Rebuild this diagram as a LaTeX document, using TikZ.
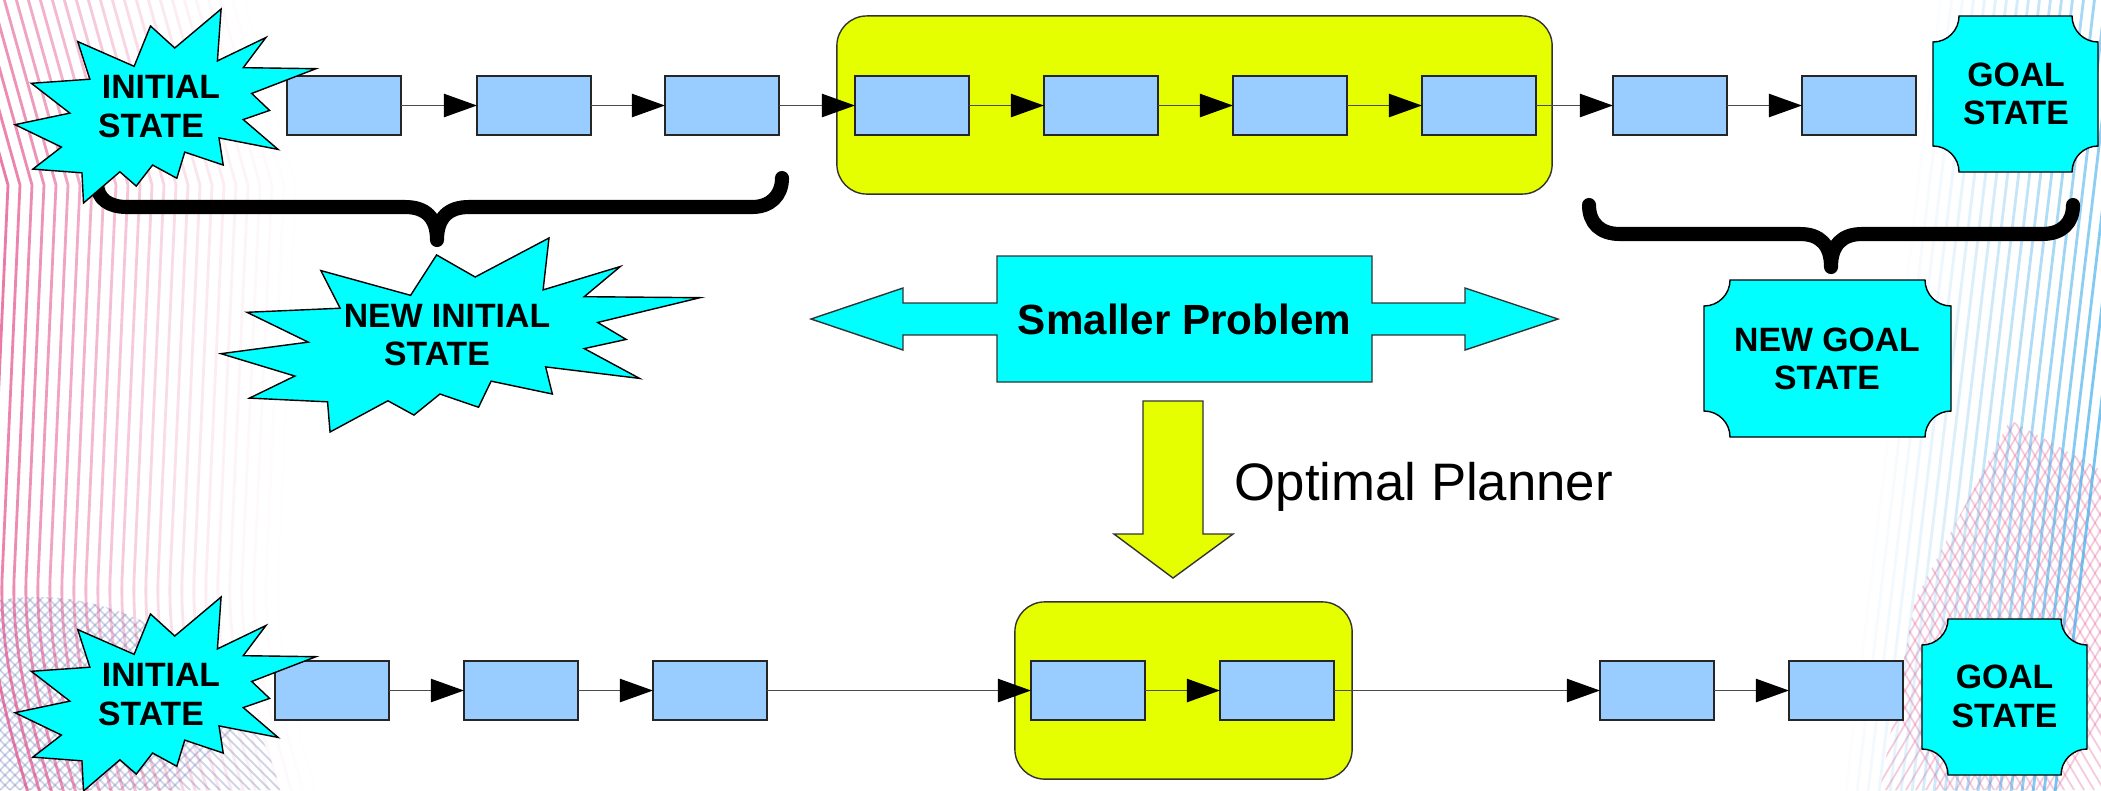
\documentclass[tikz,border=0pt]{standalone}
\usepackage{fontspec}
\setmainfont{Liberation Sans}
\usetikzlibrary{arrows.meta}

\definecolor{statecyan}{RGB}{0,255,255}
\definecolor{stepblue}{RGB}{153,204,255}
\definecolor{focusyellow}{RGB}{230,255,0}
\definecolor{stripepink}{RGB}{228,80,140}
\definecolor{stripeblue}{RGB}{70,175,235}
\definecolor{meshblue}{RGB}{80,100,170}

\newcommand\statefont{\fontsize{9.6pt}{11pt}\selectfont\bfseries}

% irregular explosion outline, given in a 216 x 216 frame and scaled to w x h
\newcommand\explosion[4]{%
  \draw[burst, shift={(#1,#2)}, xscale=#3/216, yscale=#4/216]
    (114.62,43.42) -- (147.90,0) -- (145.25,57.77) -- (180.07,31.72)
    -- (163.80,65.32) -- (216,66.45) -- (169.85,94.02) -- (182.70,112.90)
    -- (163.80,123.10) -- (188.77,156.32) -- (146.40,143.50) -- (149.42,173.70)
    -- (121.80,159.35) -- (116.12,188.42) -- (98.72,173.70) -- (87.00,197.12)
    -- (75.27,181.25) -- (49.17,216) -- (48.05,182.40) -- (12.85,178.25)
    -- (33.30,153.70) -- (0,128.77) -- (39.35,115.92) -- (11.72,82.70)
    -- (53.72,78.17) -- (45.02,36.25) -- (85.50,63.82) -- (97.22,18.87) -- cycle;}

% rectangle with concave quarter-circle corners: x0 y0 x1 y1 r
\newcommand\plaque[5]{%
  \draw[plaquestyle]
    (#1,{#2+#5}) .. controls ({#1+0.552*#5},{#2+#5}) and ({#1+#5},{#2+0.552*#5}) .. ({#1+#5},#2)
    -- ({#3-#5},#2) .. controls ({#3-#5},{#2+0.552*#5}) and ({#3-0.552*#5},{#2+#5}) .. (#3,{#2+#5})
    -- (#3,{#4-#5}) .. controls ({#3-0.552*#5},{#4-#5}) and ({#3-#5},{#4-0.552*#5}) .. ({#3-#5},#4)
    -- ({#1+#5},#4) .. controls ({#1+#5},{#4-0.552*#5}) and ({#1+0.552*#5},{#4-#5}) .. (#1,{#4-#5})
    -- cycle;}

\tikzset{
  burst/.style={fill=statecyan, draw=black, line width=0.4pt, line join=miter},
  plaquestyle/.style={fill=statecyan, draw=black, line width=0.4pt},
  stepbox/.style={rectangle, fill=stepblue, draw=black!85, line width=0.45pt,
    minimum width=32.44pt, minimum height=16.79pt, inner sep=0pt, outer sep=0pt},
  container/.style={rectangle, rounded corners=8.5pt, fill=focusyellow,
    draw=black!80, line width=0.4pt, inner sep=0pt},
  link/.style={draw=black!70, line width=0.5pt,
    -{Triangle[length=9.4pt,width=6.6pt,color=black]}},
  brace/.style={draw=black, line width=4pt, line cap=round, line join=round},
  statelabel/.style={font=\statefont, align=center, inner sep=0pt},
  bigarrow/.style={draw=black!80, line width=0.4pt, line join=miter},
}

\begin{document}
\begin{tikzpicture}[x=0.01cm, y=-0.01cm]
\useasboundingbox (0,0) rectangle (2101,790);
\clip (0,0) rectangle (2101,790);
\fill[white] (0,0) rectangle (2101,790);

% ---- backdrop: pink stripes on the left, blue stripes on the right, meshes ----
\begin{scope}
  \clip (0,600) .. controls (120,580) and (250,660) .. (280,790) -- (0,790) -- cycle;
  \foreach \k in {-40,...,40} {
    \draw[meshblue, opacity=0.28, line width=0.5pt] ({\k*10},560) -- ++(240,240);
    \draw[meshblue, opacity=0.28, line width=0.5pt] ({\k*10},560) -- ++(-240,240);
  }
\end{scope}
\foreach \i in {0,...,24} {
  \pgfmathsetmacro\op{0.75*(1-\i/25)^1.6}
  \draw[stripepink, line width=0.8pt, opacity=\op]
    ({\i*12-45},-5) -- ({\i*12+8},185) -- ({\i*12-10},580)
    .. controls ({\i*12-12},660) and ({\i*12+10},730) .. ({\i*12+30},800);
}
\begin{scope}
  \clip (1880,790) -- (1915,600) -- (2010,420) -- (2101,470) -- (2101,790) -- cycle;
  \foreach \k in {-30,...,30} {
    \draw[stripepink, opacity=0.3, line width=0.5pt] ({2000+\k*10},380) -- ++(250,420);
    \draw[stripepink, opacity=0.3, line width=0.5pt] ({2000+\k*10},380) -- ++(-250,420);
  }
\end{scope}
\foreach \j in {0,...,20} {
  \pgfmathsetmacro\op{0.75*(\j/20)^1.3}
  \draw[stripeblue, line width=0.8pt, opacity=\op]
    ({1930+\j*11},-5) -- ({1834+\j*11},800);
}

% ---- braces ----
\draw[brace] (97,183) .. controls (97,199) and (109,207) .. (127,207)
  -- (405,207) .. controls (425,207) and (437,217) .. (437,240)
  .. controls (437,217) and (449,207) .. (469,207)
  -- (752,207) .. controls (770,207) and (782,196) .. (782,178);
\draw[brace] (1589,205) .. controls (1589,223) and (1600,234) .. (1620,234)
  -- (1800,234) .. controls (1820,234) and (1831,245) .. (1831,267)
  .. controls (1831,245) and (1842,234) .. (1862,234)
  -- (2042,234) .. controls (2062,234) and (2073,223) .. (2073,205);

% ---- highlighted sub-sequences ----
\node[container, minimum width=203.4pt, minimum height=50.65pt] (focusTop) at (1194.5,105) {};
\node[container, minimum width=95.9pt, minimum height=50.4pt] (focusBot) at (1183.5,690.5) {};

% ---- top chain ----
\foreach \n/\cx in {1/344, 2/534, 3/722, 4/912, 5/1101, 6/1290, 7/1479, 8/1670, 9/1859}
  \node[stepbox] (t\n) at (\cx,105.5) {};
\foreach \a/\b in {1/2, 2/3, 3/4, 4/5, 5/6, 6/7, 7/8, 8/9}
  \draw[link] (t\a.east) -- (t\b.west);

% ---- bottom chain ----
\foreach \n/\cx in {1/332, 2/521, 3/710, 4/1088, 5/1277, 6/1657, 7/1846}
  \node[stepbox] (b\n) at (\cx,690.5) {};
\foreach \a/\b in {1/2, 2/3, 3/4, 4/5, 5/6, 6/7}
  \draw[link] (b\a.east) -- (b\b.west);

% ---- start states ----
\explosion{15}{9}{301}{194}
\node[statelabel] (initTop) at (161,106.5) {INITIAL\\STATE\hspace*{5.7pt}};
\explosion{221}{238}{479}{194}
\node[statelabel] (initNew) at (447,335) {NEW INITIAL\\STATE\hspace*{5.7pt}};
\explosion{15}{597}{301}{194}
\node[statelabel] (initBot) at (161,694.5) {INITIAL\\STATE\hspace*{5.7pt}};

% ---- goal states ----
\plaque{1933}{16}{2098}{172}{26}
\node[statelabel] (goalTop) at (2016,94) {GOAL\\STATE};
\plaque{1704}{280}{1951}{437}{26}
\node[statelabel] (goalNew) at (1827,359) {NEW GOAL\\STATE};
\plaque{1922}{619}{2087}{775}{26}
\node[statelabel] (goalBot) at (2004.5,696.5) {GOAL\\STATE};

% ---- smaller problem, double-headed ----
\draw[bigarrow, fill=statecyan]
  (811,319) -- (903,288) -- (903,303) -- (997,303) -- (997,256) -- (1372,256)
  -- (1372,303) -- (1465,303) -- (1465,288) -- (1558,319) -- (1465,350)
  -- (1465,335) -- (1372,335) -- (1372,382) -- (997,382) -- (997,335)
  -- (903,335) -- (903,350) -- cycle;
\node[font=\fontsize{12pt}{14pt}\selectfont\bfseries, inner sep=0pt] (smaller) at (1184.5,319) {Smaller Problem};

% ---- planner step ----
\draw[bigarrow, fill=focusyellow]
  (1143,401) -- (1203,401) -- (1203,534) -- (1233,534) -- (1173,578)
  -- (1114,534) -- (1143,534) -- cycle;
\node[font=\fontsize{15pt}{18pt}\selectfont, anchor=base west, inner sep=0pt] (planner) at (1234,500) {Optimal Planner};
\end{tikzpicture}
\end{document}
